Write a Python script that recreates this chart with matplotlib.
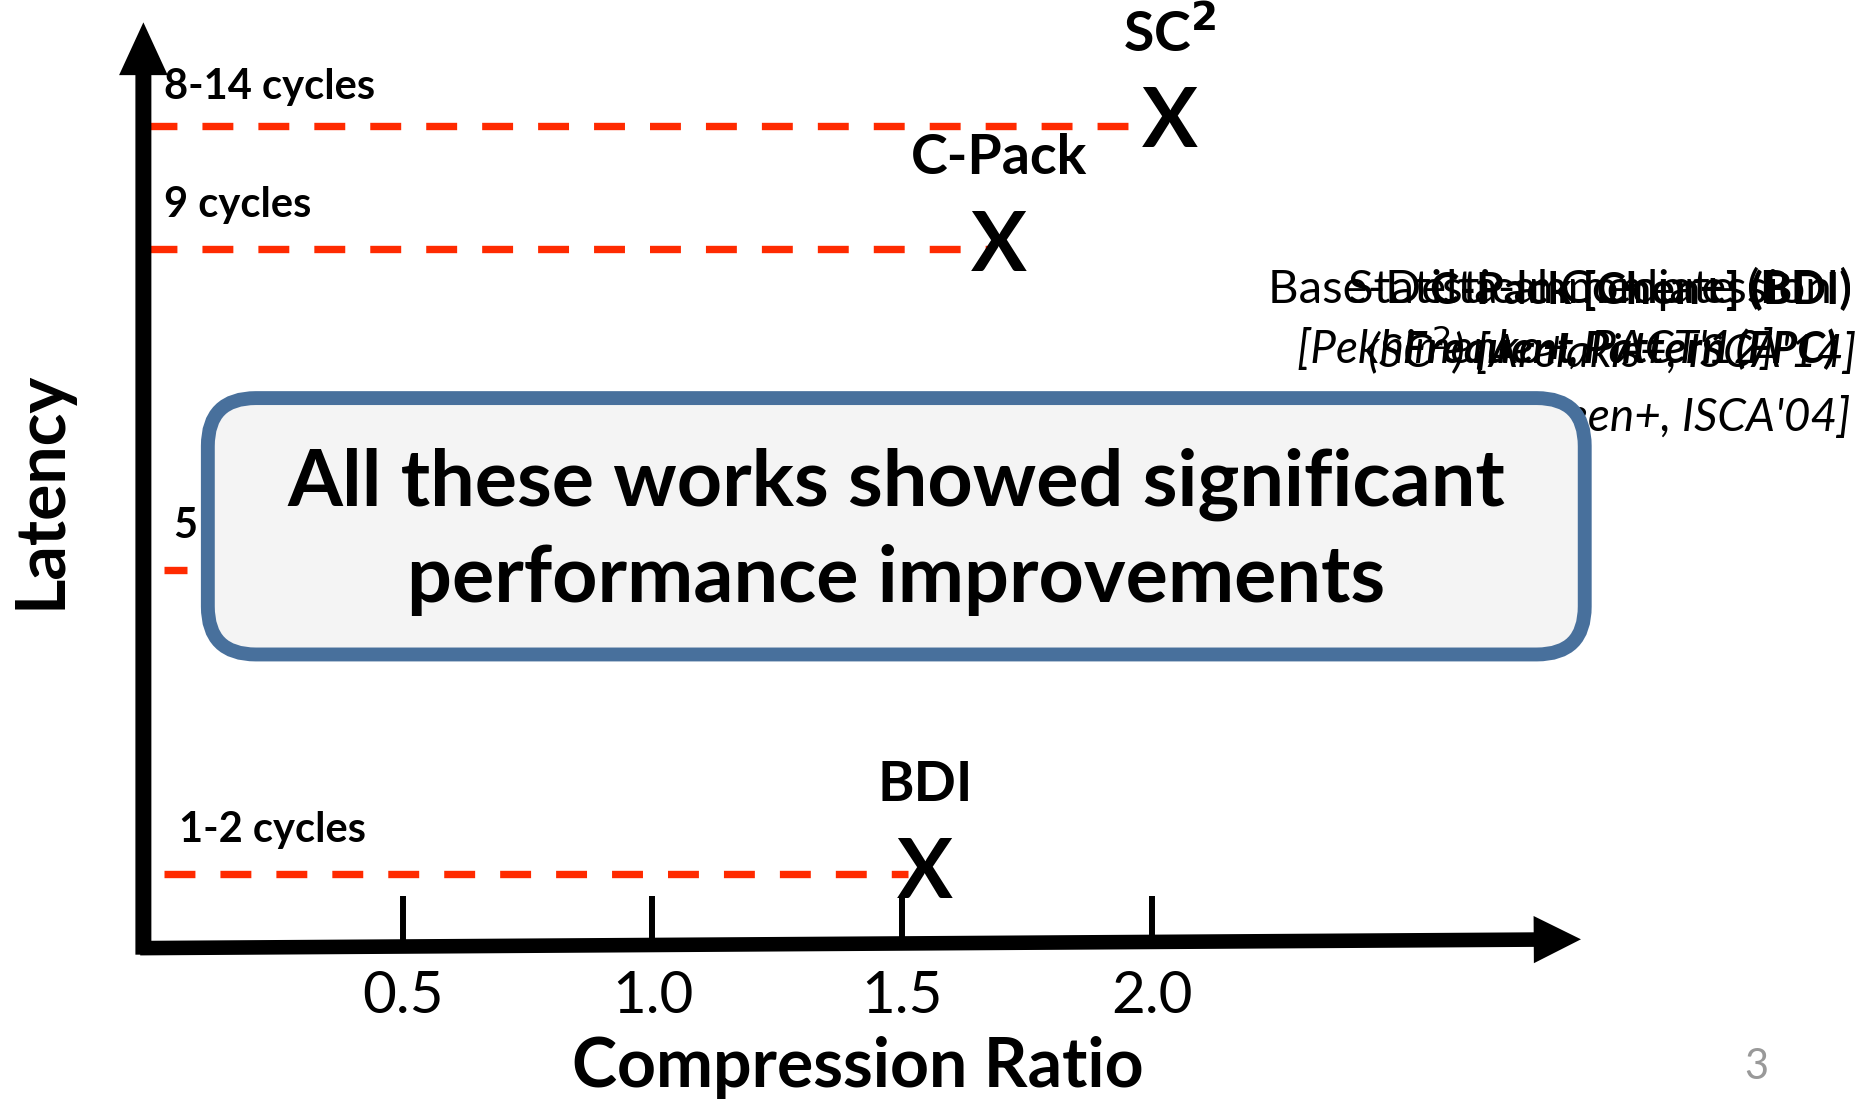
import matplotlib.pyplot as plt
from matplotlib.patches import FancyArrowPatch, FancyBboxPatch

plt.rcParams['font.family'] = ['Lato', 'DejaVu Sans']

# compression schemes: label, compression ratio, latency level (schematic units)
schemes = ["SC$^\\mathbf{2}$", "C-Pack", "BDI"]
ratios = [2.036, 1.694, 1.545]
scheme_levels = [8.87, 7.53, 0.81]

# latency lines on the y axis
latency_labels = ["8-14 cycles", "9 cycles", "5", "1-2 cycles"]
latency_levels = [8.84, 7.52, 4.08, 0.81]
line_start = [-0.014, -0.014, 0.022, 0.022]
line_end = [1.955, 1.679, 0.069, 1.512]

x_ticks = [0.5, 1.0, 1.5, 2.0]
x_tick_labels = ["0.5", "1.0", "1.5", "2.0"]

RED = "#ff2a00"
BLUE = "#48709c"

fig = plt.figure(figsize=(18.74, 11.03), dpi=100)
ax = fig.add_axes([0, 0, 1, 1])
ax.set_xlim(-0.306, 3.445)
ax.set_ylim(-1.641, 10.19)
ax.axis("off")

# hand drawn looking axes
yarrow = FancyArrowPatch((-0.019, -0.08), (-0.019, 9.98),
                         arrowstyle="simple,head_length=38,head_width=35,tail_width=11.5",
                         mutation_scale=1, color="black", lw=0, zorder=5)
ax.add_patch(yarrow)
xarrow = FancyArrowPatch((-0.031, 0.02), (2.864, 0.115),
                         arrowstyle="simple,head_length=34,head_width=34,tail_width=10.5",
                         mutation_scale=1, color="black", lw=0, zorder=5)
ax.add_patch(xarrow)

for t, lab in zip(x_ticks, x_tick_labels):
    ax.plot([t, t], [0.06, 0.58], color="black", lw=4.3, solid_capstyle="butt", zorder=5)
    ax.text(t, -0.5, lab, ha="center", va="center", fontsize=42, zorder=5)

ax.text(1.411, -1.256, "Compression Ratio", ha="center", va="center",
        fontsize=49, fontweight="bold")
ax.text(-0.223, 4.94, "Latency", ha="center", va="center", rotation=90,
        fontsize=49, fontweight="bold")

# dashed latency lines and their labels
label_x = [0.022, 0.022, 0.041, 0.053]
label_dy = [0.42, 0.47, 0.47, 0.48]
for lab, lev, x0, x1, lx, dy in zip(latency_labels, latency_levels,
                                    line_start, line_end, label_x, label_dy):
    ax.plot([x0, x1], [lev, lev], color=RED, lw=5.3, ls=(0, (4.2, 3.4)), zorder=2)
    ax.text(lx, lev + dy, lab, ha="left", va="center", fontsize=30,
            fontweight="bold")

# scheme markers
for name, r, lev in zip(schemes, ratios, scheme_levels):
    ax.text(r, lev, "X", ha="center", va="center", fontsize=60,
            fontweight="bold", zorder=4)
    ax.text(r, lev + 0.96, name, ha="center", va="center", fontsize=40,
            fontweight="bold", zorder=4)

# overlapping reference texts (slide animation leftovers)
ax.text(3.402, 7.08, "Base-Delta-Immediate (BDI)", ha="right", va="center", fontsize=34, zorder=1)
ax.text(3.36, 7.08, "Statistical Compression", ha="right", va="center", fontsize=34, zorder=1)
ax.text(3.40, 7.08, "C-Pack [Chen+] (BDI)", ha="right", va="center", fontsize=32,
        fontweight="bold", zorder=1)
ax.text(2.29, 6.44, "[Pekhimenko+, PACT'12]", ha="left", va="center", fontsize=33,
        style="italic", zorder=1)
ax.text(3.41, 6.44, "(SC$^2$) [Arelakis+, ISCA'14]", ha="right", va="center", fontsize=33,
        style="italic", zorder=1)
ax.text(3.37, 6.44, "Frequent Pattern (FPC)", ha="right", va="center", fontsize=32,
        style="italic", fontweight="bold", zorder=1)
ax.text(3.397, 5.71, "[Alameldeen+, ISCA'04]", ha="right", va="center", fontsize=33,
        style="italic", zorder=1)

# message box
box = FancyBboxPatch((0.11, 3.17), 2.756, 2.75,
                     boxstyle="round,pad=0,rounding_size=0.096",
                     mutation_aspect=5.36, facecolor="#f4f4f4",
                     edgecolor=BLUE, lw=10, zorder=6)
ax.add_patch(box)
ax.text(1.488, 4.49, "All these works showed significant\nperformance improvements",
        ha="center", va="center", fontsize=57, fontweight="bold",
        linespacing=1.4, zorder=7)

ax.text(3.21, -1.256, "3", ha="center", va="center", fontsize=30, color="#999999")

fig.savefig("out.png", dpi=100)
